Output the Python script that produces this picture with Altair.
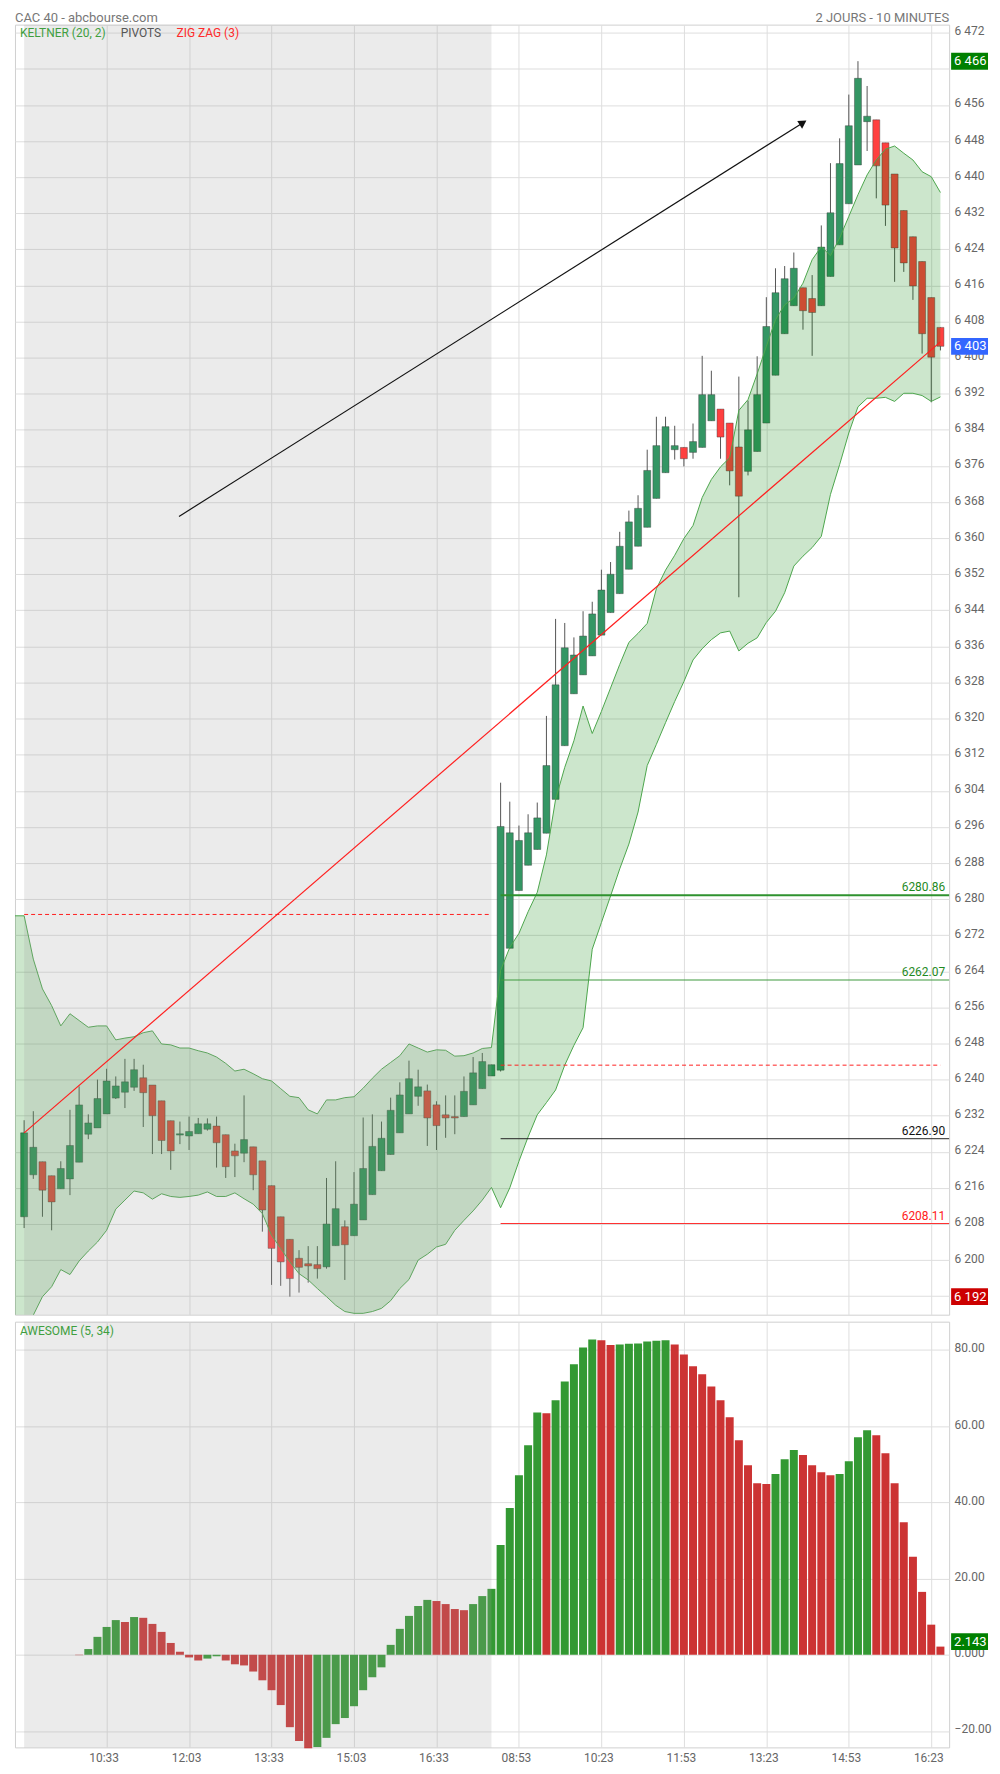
import math
import altair as alt
import pandas as pd

# ---------------- data ----------------
IDX = list(range(101))
OPEN = [6209.6, 6218.9, 6221.8, 6218.7, 6215.8, 6218.0, 6221.7, 6227.9, 6229.3, 6232.4,
        6235.9, 6237.2, 6238.3, 6240.4, 6238.8, 6235.3, 6230.9, 6227.7, 6227.5, 6228.0,
        6229.0, 6229.7, 6227.8, 6224.2, 6223.7, 6225.1, 6222.0, 6216.5, 6209.6, 6204.6,
        6200.4, 6199.2, 6199.0, 6198.5, 6203.2, 6207.4, 6205.4, 6208.9, 6214.5, 6219.8,
        6223.4, 6228.2, 6232.4, 6236.3, 6237.5, 6234.4, 6232.2, 6231.8, 6231.8, 6234.4,
        6238.0, 6240.8,
        6242.1, 6269.1, 6281.9, 6287.5, 6291.0, 6294.6, 6302.1, 6314.0, 6325.5, 6329.7,
        6333.9, 6338.5, 6343.5, 6347.7, 6353.1, 6358.2, 6362.4, 6368.8, 6374.5, 6379.6,
        6380.1, 6379.0, 6380.1, 6386.0, 6388.6, 6385.5, 6380.2, 6374.8, 6379.2, 6385.5,
        6396.1, 6405.3, 6411.5, 6415.5, 6413.1, 6411.5, 6418.0, 6425.0, 6434.1, 6442.7,
        6452.3, 6452.7, 6447.6, 6440.7, 6432.6, 6426.8, 6421.3, 6413.3, 6406.7]
HIGH = [6231.0, 6233.0, 6221.8, 6218.7, 6221.9, 6233.3, 6238.5, 6232.3, 6240.0, 6242.4,
        6240.7, 6244.6, 6244.6, 6243.3, 6238.8, 6235.3, 6230.9, 6230.7, 6231.8, 6231.5,
        6231.4, 6231.8, 6227.8, 6225.8, 6236.5, 6225.1, 6222.0, 6216.5, 6209.6, 6204.6,
        6202.2, 6203.1, 6203.1, 6218.2, 6221.9, 6208.8, 6219.5, 6231.6, 6232.3, 6230.7,
        6236.0, 6239.4, 6244.2, 6242.2, 6238.9, 6235.2, 6236.5, 6236.5, 6240.7, 6245.0,
        6245.9, 6243.3,
        6305.8, 6301.6, 6296.3, 6298.8, 6301.4, 6320.6, 6342.1, 6341.2, 6338.0, 6343.8,
        6345.9, 6353.0, 6354.7, 6361.4, 6366.1, 6369.5, 6379.6, 6386.9, 6386.9, 6384.9,
        6380.1, 6385.4, 6400.4, 6397.1, 6388.6, 6385.5, 6395.8, 6390.5, 6400.3, 6413.4,
        6419.8, 6420.3, 6423.3, 6415.5, 6418.3, 6429.3, 6443.1, 6448.6, 6458.3, 6465.7,
        6460.2, 6452.7, 6447.6, 6440.7, 6432.6, 6426.8, 6421.3, 6413.3, 6406.7]
LOW = [6207.1, 6218.0, 6209.6, 6206.6, 6215.8, 6214.4, 6221.7, 6226.8, 6229.3, 6232.4,
       6235.7, 6233.7, 6237.5, 6229.5, 6223.5, 6223.5, 6220.0, 6225.7, 6224.4, 6228.0,
       6228.7, 6220.5, 6218.2, 6218.4, 6221.7, 6215.5, 6206.3, 6194.5, 6194.3, 6191.9,
       6192.8, 6195.0, 6195.9, 6198.1, 6203.2, 6195.6, 6205.4, 6208.9, 6214.5, 6219.8,
       6223.4, 6228.2, 6232.4, 6234.2, 6225.3, 6224.4, 6227.1, 6227.9, 6231.8, 6234.4,
       6238.0, 6240.8,
       6241.8, 6269.1, 6281.9, 6287.5, 6291.0, 6294.6, 6302.1, 6314.0, 6325.5, 6329.7,
       6333.9, 6338.5, 6343.5, 6347.7, 6353.1, 6358.2, 6362.4, 6368.8, 6374.5, 6377.4,
       6375.9, 6377.6, 6380.1, 6386.0, 6377.6, 6371.7, 6346.9, 6373.9, 6379.2, 6385.5,
       6396.1, 6405.3, 6411.5, 6406.2, 6400.4, 6411.5, 6418.0, 6425.0, 6434.1, 6442.7,
       6445.8, 6435.3, 6429.2, 6416.8, 6419.0, 6412.8, 6400.9, 6390.1, 6401.6]
CLOSE = [6228.2, 6225.0, 6215.5, 6212.9, 6220.3, 6225.4, 6234.4, 6230.4, 6235.8, 6239.7,
         6238.6, 6239.5, 6242.2, 6237.1, 6232.0, 6226.5, 6224.2, 6228.0, 6228.5, 6230.2,
         6230.2, 6226.0, 6220.7, 6223.1, 6226.7, 6218.9, 6211.1, 6202.6, 6199.6, 6195.9,
         6198.4, 6198.7, 6198.1, 6208.0, 6211.4, 6203.4, 6212.4, 6220.3, 6225.2, 6227.0,
         6233.2, 6236.6, 6240.2, 6238.4, 6231.5, 6229.8, 6231.5, 6231.5, 6237.4, 6241.5,
         6244.0, 6243.3,
         6296.1, 6294.7, 6293.0, 6294.7, 6298.0, 6309.6, 6327.5, 6335.7, 6334.1, 6338.3,
         6343.2, 6348.5, 6352.0, 6358.2, 6363.6, 6366.6, 6375.0, 6380.5, 6384.7, 6380.5,
         6377.6, 6381.4, 6391.8, 6391.8, 6382.4, 6374.9, 6369.3, 6384.0, 6391.8, 6406.9,
         6414.4, 6417.5, 6419.8, 6410.4, 6410.0, 6424.5, 6432.1, 6443.0, 6451.4, 6461.9,
         6453.5, 6442.5, 6433.8, 6424.3, 6421.0, 6415.9, 6405.3, 6400.1, 6402.5]

BAND_IDX = list(range(-1, 101))
KELTNER_UP = [6276.3, 6276.3, 6266.7, 6260.1, 6256.4, 6251.9, 6254.6, 6253.1, 6251.6, 6251.9,
              6251.9, 6248.8, 6249.2, 6249.5, 6250.4, 6250.8, 6247.9, 6247.7, 6247.0, 6247.0,
              6246.4, 6245.9, 6245.0, 6243.6, 6241.9, 6242.3, 6241.3, 6240.2, 6239.7, 6238.0,
              6236.3, 6236.0, 6233.3, 6232.4, 6235.5, 6235.5, 6236.0, 6236.2, 6238.1, 6240.3,
              6242.3, 6243.8, 6245.3, 6247.9, 6247.0, 6246.1, 6246.6, 6246.5, 6245.2, 6245.3,
              6245.9, 6246.9, 6247.1,
              6264.2, 6269.3, 6272.4, 6277.2, 6281.5, 6289.8, 6302.1, 6309.2, 6315.1, 6322.8,
              6316.7, 6321.6, 6326.8, 6332.0, 6336.9, 6338.9, 6341.1, 6348.8, 6352.9, 6356.2,
              6359.9, 6362.8, 6369.0, 6373.0, 6375.8, 6377.8, 6388.3, 6390.7, 6396.4, 6402.5,
              6408.4, 6411.7, 6413.2, 6416.5, 6421.7, 6424.6, 6422.6, 6426.5, 6431.3, 6436.1,
              6440.5, 6443.8, 6446.2, 6446.9, 6445.3, 6443.8, 6441.2, 6440.1, 6436.6]
KELTNER_LO = [6178.0, 6183.0,
              6187.8, 6191.9, 6194.1, 6197.9, 6196.8, 6199.8, 6202.0, 6204.0, 6206.6, 6211.3,
              6213.3, 6215.3, 6214.9, 6213.5, 6214.7, 6214.1, 6213.9, 6214.1, 6214.4, 6215.1,
              6214.1, 6214.1, 6214.9, 6213.6, 6212.4, 6210.3, 6205.5, 6202.6, 6199.6, 6197.0,
              6195.6, 6193.7, 6191.9, 6190.0, 6188.6, 6188.2, 6188.2, 6188.6, 6189.3, 6191.0,
              6193.7, 6195.7, 6200.0, 6201.3, 6202.9, 6203.5, 6206.6, 6208.8, 6210.9, 6213.3,
              6216.1,
              6211.6, 6216.0, 6221.9, 6227.3, 6232.2, 6234.9, 6237.7, 6243.2, 6247.6, 6251.5,
              6268.9, 6274.8, 6280.7, 6286.7, 6292.2, 6299.3, 6309.6, 6314.3, 6319.1, 6323.8,
              6328.2, 6333.0, 6335.5, 6337.5, 6339.0, 6339.4, 6335.0, 6336.7, 6337.9, 6341.3,
              6343.8, 6347.9, 6353.8, 6356.0, 6357.9, 6360.4, 6369.7, 6376.3, 6383.3, 6389.1,
              6391.0, 6391.0, 6391.2, 6390.3, 6392.1, 6392.1, 6391.6, 6390.3, 6391.3]

AO_IDX = list(range(6, 101))
AO = [-0.1, 1.5, 4.7, 7.3, 9.1, 8.6, 9.9, 9.7, 8.1, 6.0,
      3.1, 0.8, -0.7, -1.5, -1.0, -0.4, -1.5, -2.5, -2.8, -4.4,
      -6.7, -9.3, -13.2, -19.0, -22.6, -24.5, -24.2, -21.8, -18.2, -16.6,
      -13.5, -9.3, -5.9, -3.3, 2.6, 6.8, 10.2, 12.8, 14.4, 14.1,
      13.3, 12.0, 11.7, 13.3, 15.4, 17.3, 28.8, 38.5, 47.1, 55.0,
      63.6, 63.4, 66.8, 71.7, 76.2, 80.6, 82.7, 82.5, 81.3, 81.4,
      81.6, 81.7, 82.2, 82.4, 82.5, 81.4, 78.8, 75.7, 73.6, 70.4,
      66.8, 62.3, 56.3, 49.7, 45.0, 44.8, 47.4, 51.3, 53.7, 52.4,
      49.7, 47.9, 47.1, 47.4, 50.8, 57.1, 58.9, 57.6, 52.9, 45.0,
      34.8, 25.7, 16.5, 7.9, 2.143]

TICK_IDX = [9, 18, 27, 36, 45, 54, 63, 72, 81, 90, 99]
TICK_LABELS = ["10:33", "12:03", "13:33", "15:03", "16:33",
               "08:53", "10:23", "11:53", "13:23", "14:53", "16:23"]
PRICE_TICKS = list(range(6192, 6473, 8))
HIDDEN_PRICE_LABELS = [6464]             # fully covered by the high-price box
AO_TICKS = [-20, 0, 20, 40, 60, 80]

SESSION1 = [0, 51]                       # first day (shaded)
PREV_CLOSE = [6276.6, 6243.2]            # dashed reference levels
PREV_FROM = [0, 52]
PREV_TO = [51, 100]
PIVOT_LEVELS = [6280.86, 6262.07, 6226.90, 6208.11]
PIVOT_TEXT = ["6280.86", "6262.07", "6226.90", "6208.11"]
PIVOT_START = 52
ZIGZAG_IDX = [0, 100]
ZIGZAG_PRICE = [6228.2, 6403.5]
ARROW_IDX = [16.9, 85.42]
ARROW_PRICE = [6364.8, 6452.6]
PRICE_BOX_VALUES = [6465.7, 6402.5, 6191.9]
PRICE_BOX_TEXT = ["6 466", "6 403", "6 192"]
AO_BOX_VALUE = 2.143
AO_BOX_TEXT = "2.143"

# ---------------- layout / style ----------------
W = 937
PH = 1294
AH = 427
BOX_W = 39
XDOM = [-1.0, 100.95]
YDOM = [6187.9, 6473.8]
ADOM = [-24.3, 87.4]
PX_X = W / (XDOM[1] - XDOM[0])
PX_Y = PH / (YDOM[1] - YDOM[0])
PX_A = AH / (ADOM[1] - ADOM[0])

UP_C = "#349664"
DN_C = "#ff4040"
AO_UP = "#339933"
AO_DN = "#cc3333"
BOX_COLORS = ["#008000", "#3366ff", "#cc0000"]
BAND_C = "#008000"
BAND_LINE = "#4ca64c"
FONT = "Roboto"

xscale = alt.Scale(domain=XDOM, nice=False, zero=False, padding=0)
yscale = alt.Scale(domain=YDOM, nice=False, zero=False, padding=0)
ascale = alt.Scale(domain=ADOM, nice=False, zero=False, padding=0)

hidden = " || ".join("datum.value == %d" % v for v in HIDDEN_PRICE_LABELS)
price_xaxis = alt.Axis(values=TICK_IDX, labels=False, ticks=False, domain=False,
                       grid=True, title=None, minExtent=0, maxExtent=0)
price_yaxis = alt.Axis(orient="right", values=PRICE_TICKS, grid=True, ticks=False,
                       domain=False, title=None, labelPadding=5, labelFontSize=12,
                       labelColor="#666", labelOffset=-2, labelFlush=False,
                       labelExpr="(" + hidden + ") ? '' : "
                                 "replace(format(datum.value, ','), ',', ' ')")
lbl_arr = "[" + ",".join("'%s'" % t for t in TICK_LABELS) + "]"
idx_arr = "[" + ",".join(str(t) for t in TICK_IDX) + "]"
ao_xaxis = alt.Axis(values=TICK_IDX, ticks=False, domain=False, grid=True, title=None,
                    labelPadding=5, labelFontSize=12, labelColor="#666",
                    labelFlush=False, labelOffset=-3, minExtent=0, maxExtent=18,
                    labelExpr=lbl_arr + "[indexof(" + idx_arr + ", datum.value)]")
ao_yaxis = alt.Axis(orient="right", values=AO_TICKS, grid=True, ticks=False,
                    domain=False, title=None, labelPadding=5, labelFontSize=12,
                    labelColor="#666", labelOffset=-2, labelFlush=False,
                    labelExpr="datum.value == 0 ? '0.000' : format(datum.value, '.2f')")


def PX(f):
    return alt.X(f, type="quantitative", scale=xscale, axis=price_xaxis)


def PY(f):
    return alt.Y(f, type="quantitative", scale=yscale, axis=price_yaxis)


def AX(f):
    return alt.X(f, type="quantitative", scale=xscale, axis=ao_xaxis)


def AY(f):
    return alt.Y(f, type="quantitative", scale=ascale, axis=ao_yaxis)


# ---------------- price panel ----------------
candles = pd.DataFrame({"i": IDX, "o": OPEN, "h": HIGH, "l": LOW, "c": CLOSE})
candles["col"] = [UP_C if c >= o else DN_C for o, c in zip(OPEN, CLOSE)]
band = pd.DataFrame({"i": BAND_IDX, "up": KELTNER_UP, "lo": KELTNER_LO})

base = alt.Chart(candles)
wicks = base.mark_rule(color="#555555", strokeWidth=1, clip=True).encode(
    x=PX("i"), y=PY("l"), y2="h")
bodies = base.mark_bar(size=7, stroke="#3a3a3a", strokeWidth=0.6, strokeOpacity=0.7,
                       clip=True).encode(
    x=PX("i"), y=PY("o"), y2="c", color=alt.Color("col:N", scale=None))
band_area = alt.Chart(band).mark_area(color=BAND_C, opacity=0.2, clip=True).encode(
    x=PX("i"), y=PY("up"), y2="lo")
band_up = alt.Chart(band).mark_line(color=BAND_LINE, strokeWidth=1, clip=True).encode(
    x=PX("i"), y=PY("up"))
band_lo = alt.Chart(band).mark_line(color=BAND_LINE, strokeWidth=1, clip=True).encode(
    x=PX("i"), y=PY("lo"))

sess = pd.DataFrame({"s": [SESSION1[0]], "e": [SESSION1[1]]})
shade_p = alt.Chart(sess).mark_rect(color="#a0a0a0", opacity=0.21).encode(
    x=PX("s"), x2="e", y=alt.value(0), y2=alt.value(PH))

prev = pd.DataFrame({"s": PREV_FROM, "e": PREV_TO, "v": PREV_CLOSE})
prev_rules = alt.Chart(prev).mark_rule(color="#ff2020", strokeWidth=1,
                                       strokeDash=[4, 3]).encode(
    x=PX("s"), x2="e", y=PY("v"))

piv_colors = ["#2f922f", "#3f9a3f", "#222222", "#ff3030"]
piv_text_colors = ["#1f8a1f", "#1f8a1f", "#111111", "#ff2020"]
piv_widths = [2, 1.2, 1, 1]
pivot_layers = []
for lev, txt, col, tcol, sw in zip(PIVOT_LEVELS, PIVOT_TEXT, piv_colors,
                                   piv_text_colors, piv_widths):
    d = pd.DataFrame({"s": [PIVOT_START], "e": [XDOM[1]], "v": [lev], "t": [txt]})
    pivot_layers.append(alt.Chart(d).mark_rule(color=col, strokeWidth=sw).encode(
        x=PX("s"), x2="e", y=PY("v")))
    pivot_layers.append(alt.Chart(d).mark_text(
        align="right", baseline="bottom", dx=-4, dy=-1, fontSize=12, font=FONT,
        color=tcol).encode(x=alt.value(W), y=PY("v"), text="t:N"))

zz = pd.DataFrame({"i": ZIGZAG_IDX, "v": ZIGZAG_PRICE})
zigzag = alt.Chart(zz).mark_line(color="#ff1f1f", strokeWidth=1.2).encode(
    x=PX("i"), y=PY("v"))

# arrow: line + rotated triangle head
dxp = (ARROW_IDX[1] - ARROW_IDX[0]) * PX_X
dyp = (ARROW_PRICE[1] - ARROW_PRICE[0]) * PX_Y
L = math.hypot(dxp, dyp)
ux, uy = dxp / L, dyp / L
ang = math.degrees(math.atan2(ux, uy))
back = 4.5
head_i = ARROW_IDX[1] - ux * back / PX_X
head_v = ARROW_PRICE[1] - uy * back / PX_Y
arr = pd.DataFrame({"i": [ARROW_IDX[0], head_i], "v": [ARROW_PRICE[0], head_v]})
arrow_line = alt.Chart(arr).mark_line(color="#111111", strokeWidth=1.2).encode(
    x=PX("i"), y=PY("v"))
arrow_head = alt.Chart(pd.DataFrame({"i": [head_i], "v": [head_v]})).mark_point(
    shape="triangle-up", filled=True, size=85, angle=ang, color="#111111",
    opacity=1).encode(x=PX("i"), y=PY("v"))


def text_layer(t, x, y, color, size=12, align="left", baseline="middle"):
    return alt.Chart(pd.DataFrame({"t": [t]})).mark_text(
        align=align, baseline=baseline, fontSize=size, font=FONT, color=color).encode(
        x=alt.value(x), y=alt.value(y), text="t:N")


head1 = text_layer("CAC 40 - abcbourse.com", 0, -13, "#777777", 13, baseline="top")
head2 = text_layer("2 JOURS - 10 MINUTES", W, -13, "#777777", 13, align="right",
                   baseline="top")
leg1 = text_layer("KELTNER (20, 2)", 5, 8, "#3f9f3f")
leg2 = text_layer("PIVOTS", 106, 8, "#555555")
leg3 = text_layer("ZIG ZAG (3)", 162, 8, "#ff2a2a")

# value boxes on the right axis
half = 8.5 / PX_Y
pbox = pd.DataFrame({"v": PRICE_BOX_VALUES, "t": PRICE_BOX_TEXT,
                     "top": [v + half for v in PRICE_BOX_VALUES],
                     "bot": [v - half for v in PRICE_BOX_VALUES],
                     "col": BOX_COLORS})
box_rects = alt.Chart(pbox).mark_rect().encode(
    x=alt.value(W + 2), x2=alt.value(W + BOX_W), y=PY("top"), y2="bot",
    color=alt.Color("col:N", scale=None))
box_texts = alt.Chart(pbox).mark_text(align="left", baseline="middle", fontSize=13,
                                      font=FONT, color="white").encode(
    x=alt.value(W + 5), y=PY("v"), text="t:N")

price = alt.layer(
    wicks, bodies, band_area, band_up, band_lo, shade_p, prev_rules, *pivot_layers,
    zigzag, arrow_line, arrow_head, leg1, leg2, leg3, head1, head2, box_rects, box_texts
).properties(width=W, height=PH)

# ---------------- awesome oscillator panel ----------------
ao = pd.DataFrame({"i": AO_IDX, "a": AO})
prev_vals = [None] + AO[:-1]
ao["col"] = [AO_UP if (p is not None and a > p) else AO_DN
             for a, p in zip(AO, prev_vals)]
ao_bars = alt.Chart(ao).mark_bar(size=8).encode(
    x=AX("i"), y=AY("a"), color=alt.Color("col:N", scale=None))
shade_a = alt.Chart(sess).mark_rect(color="#a0a0a0", opacity=0.21).encode(
    x=AX("s"), x2="e", y=alt.value(0), y2=alt.value(AH))
ao_leg = text_layer("AWESOME (5, 34)", 5, 9, "#3f9f3f")
ahalf = 8.5 / PX_A
ashift = 5.0 / PX_A
abox = pd.DataFrame({"v": [AO_BOX_VALUE + ashift], "t": [AO_BOX_TEXT],
                     "top": [AO_BOX_VALUE + ashift + ahalf],
                     "bot": [AO_BOX_VALUE + ashift - ahalf]})
abox_rect = alt.Chart(abox).mark_rect(color="#008000").encode(
    x=alt.value(W + 2), x2=alt.value(W + BOX_W), y=AY("top"), y2="bot")
abox_text = alt.Chart(abox).mark_text(align="left", baseline="middle", fontSize=13,
                                      font=FONT, color="white").encode(
    x=alt.value(W + 5), y=AY("v"), text="t:N")

osc = alt.layer(ao_bars, shade_a, ao_leg, abox_rect, abox_text).properties(
    width=W, height=AH)

chart = alt.vconcat(price, osc, spacing=5).properties(
    padding={"left": 6, "top": 0, "right": 0, "bottom": 0}
).configure(font=FONT).configure_view(stroke="#d0d0d0", strokeWidth=1).configure_axis(
    gridColor="#dedede", gridWidth=1, labelFont=FONT)

chart.save("out.html", embed_options={"renderer": "svg", "actions": False})
